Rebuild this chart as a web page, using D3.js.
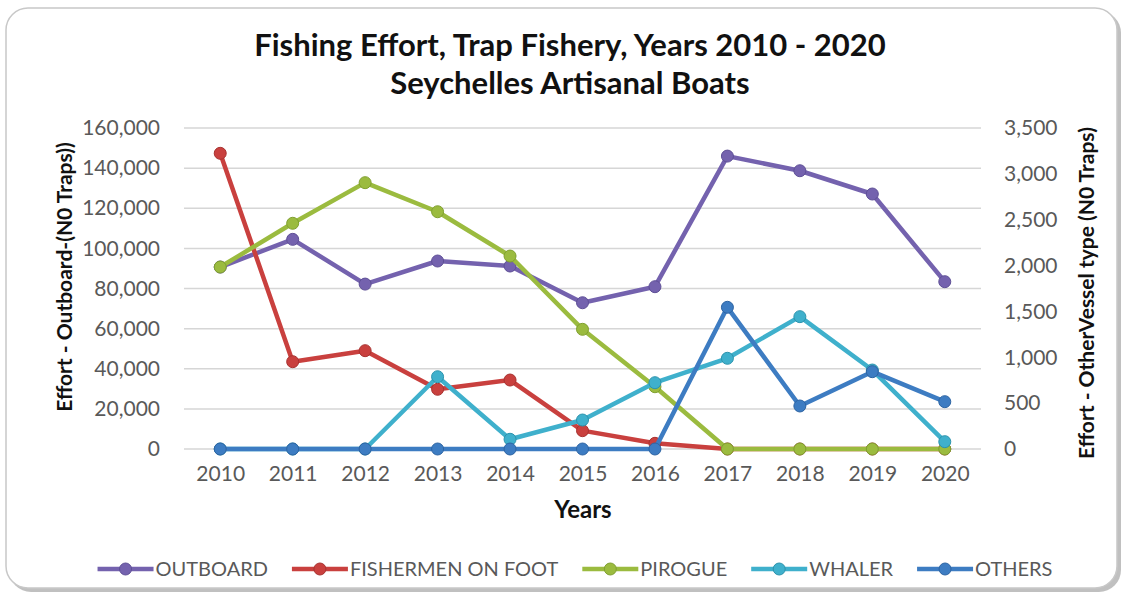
<!DOCTYPE html>
<html>
<head>
<meta charset="utf-8">
<script src="https://cdn.jsdelivr.net/npm/d3@7"></script>
<style>
  body { margin: 0; background: #fff; }
  text { font-family: Lato, "Liberation Sans", sans-serif; }
</style>
</head>
<body>
<div id="chart"></div>
<script>
// data
const years = [2010, 2011, 2012, 2013, 2014, 2015, 2016, 2017, 2018, 2019, 2020];
const outboard = [90700, 104500, 82200, 93700, 91200, 72900, 80900, 146000, 138700, 127100, 83400];
const fishermenOnFoot = [3224, 952, 1072, 651, 752, 200, 62, 0, 0, 0, 0];
const pirogue = [1984, 2461, 2904, 2587, 2104, 1305, 679, 0, 0, 0, 0];
const whaler = [0, 0, 0, 788, 106, 316, 723, 989, 1443, 861, 80];
const others = [0, 0, 0, 0, 0, 0, 0, 1545, 469, 843, 516];

const leftTicks = [0, 20000, 40000, 60000, 80000, 100000, 120000, 140000, 160000];
const rightTicks = [0, 500, 1000, 1500, 2000, 2500, 3000, 3500];

const series = [
  { name: "OUTBOARD", values: outboard, axis: "left", color: "#7462ae", dark: "#5e4f96" },
  { name: "FISHERMEN ON FOOT", values: fishermenOnFoot, axis: "right", color: "#c9403e", dark: "#a83230" },
  { name: "PIROGUE", values: pirogue, axis: "right", color: "#9bbb3f", dark: "#80a030" },
  { name: "WHALER", values: whaler, axis: "right", color: "#3fb0cc", dark: "#2b93ad" },
  { name: "OTHERS", values: others, axis: "right", color: "#3d7cc2", dark: "#2d64a3" }
];

const width = 1126, height = 594;
const plot = { left: 184, right: 981, top: 128, bottom: 449 };

const svg = d3.select("#chart").append("svg")
  .attr("width", width)
  .attr("height", height);

// frame with shadow
svg.append("rect")
  .attr("x", 9).attr("y", 11).attr("width", 1112).attr("height", 581)
  .attr("rx", 22).attr("fill", "#8c8c8c").attr("opacity", 0.55);
svg.append("rect")
  .attr("x", 6).attr("y", 8).attr("width", 1111).attr("height", 580)
  .attr("rx", 22).attr("fill", "#fff").attr("stroke", "#c8c8c8").attr("stroke-width", 1.5);

// title
svg.append("text")
  .attr("x", 570).attr("y", 56)
  .attr("text-anchor", "middle")
  .style("font-size", "31px").style("font-weight", "bold").attr("fill", "#111")
  .text("Fishing Effort, Trap Fishery, Years 2010 - 2020");
svg.append("text")
  .attr("x", 570).attr("y", 94)
  .attr("text-anchor", "middle")
  .style("font-size", "31px").style("font-weight", "bold").attr("fill", "#111")
  .text("Seychelles Artisanal Boats");

// scales
const x = d3.scalePoint()
  .domain(years)
  .range([plot.left, plot.right])
  .padding(0.5);

const yLeft = d3.scaleLinear()
  .domain([0, 160000])
  .range([plot.bottom, plot.top]);

const yRight = d3.scaleLinear()
  .domain([0, 3500])
  .range([plot.bottom, plot.top]);

// gridlines
svg.append("g")
  .selectAll("line")
  .data(leftTicks)
  .join("line")
  .attr("x1", plot.left).attr("x2", plot.right)
  .attr("y1", d => yLeft(d)).attr("y2", d => yLeft(d))
  .attr("stroke", "#d6d6d6").attr("stroke-width", 1.5);

// axes
const axisLeft = svg.append("g")
  .attr("transform", `translate(${plot.left},0)`)
  .call(d3.axisLeft(yLeft).tickValues(leftTicks).tickFormat(d3.format(",")).tickSize(0).tickPadding(24));

const axisRight = svg.append("g")
  .attr("transform", `translate(${plot.right},0)`)
  .call(d3.axisRight(yRight).tickValues(rightTicks).tickFormat(d3.format(",")).tickSize(0).tickPadding(23));

const axisBottom = svg.append("g")
  .attr("transform", `translate(0,${plot.bottom})`)
  .call(d3.axisBottom(x).tickSize(0).tickPadding(17));

[axisLeft, axisRight, axisBottom].forEach(a => {
  a.select(".domain").remove();
  a.selectAll("text")
    .style("font-size", "21px")
    .style("font-family", "Lato, sans-serif")
    .attr("fill", "#595959");
});

// axis titles
svg.append("text")
  .attr("transform", "translate(72,277) rotate(-90)")
  .attr("text-anchor", "middle")
  .style("font-size", "21px").style("font-weight", "bold").attr("fill", "#111")
  .text("Effort - Outboard-(N0 Traps))");

svg.append("text")
  .attr("transform", "translate(1094,293) rotate(-90)")
  .attr("text-anchor", "middle")
  .style("font-size", "21px").style("font-weight", "bold").attr("fill", "#111")
  .text("Effort - OtherVessel type (N0 Traps)");

svg.append("text")
  .attr("x", 583).attr("y", 518)
  .attr("text-anchor", "middle")
  .style("font-size", "24px").style("font-weight", "bold").attr("fill", "#111")
  .text("Years");

// lines and markers
series.forEach(s => {
  const yScale = s.axis === "left" ? yLeft : yRight;
  const pts = years.map((yr, i) => ({ year: yr, value: s.values[i] }));
  const line = d3.line()
    .x(d => x(d.year))
    .y(d => yScale(d.value));

  svg.append("path")
    .datum(pts)
    .attr("d", line)
    .attr("fill", "none")
    .attr("stroke", s.color)
    .attr("stroke-width", 4.5)
    .attr("stroke-linejoin", "round");

  svg.append("g")
    .selectAll("circle")
    .data(pts)
    .join("circle")
    .attr("cx", d => x(d.year))
    .attr("cy", d => yScale(d.value))
    .attr("r", 6)
    .attr("fill", s.color)
    .attr("stroke", s.dark)
    .attr("stroke-width", 1);
});

// legend
const legend = svg.append("g");
const items = series.map(s => {
  const g = legend.append("g");
  g.append("line")
    .attr("x1", 0).attr("x2", 56)
    .attr("y1", 0).attr("y2", 0)
    .attr("stroke", s.color).attr("stroke-width", 4.5);
  g.append("circle")
    .attr("cx", 28).attr("cy", 0).attr("r", 6)
    .attr("fill", s.color).attr("stroke", s.dark);
  const t = g.append("text")
    .attr("x", 58).attr("y", 7)
    .style("font-size", "20px").attr("fill", "#595959")
    .text(s.name);
  return { g, w: 58 + t.node().getComputedTextLength() };
});
const gap = 24;
const total = d3.sum(items, d => d.w) + gap * (items.length - 1);
let cx = 575 - total / 2;
items.forEach(it => {
  it.g.attr("transform", `translate(${cx},569)`);
  cx += it.w + gap;
});
</script>
</body>
</html>
